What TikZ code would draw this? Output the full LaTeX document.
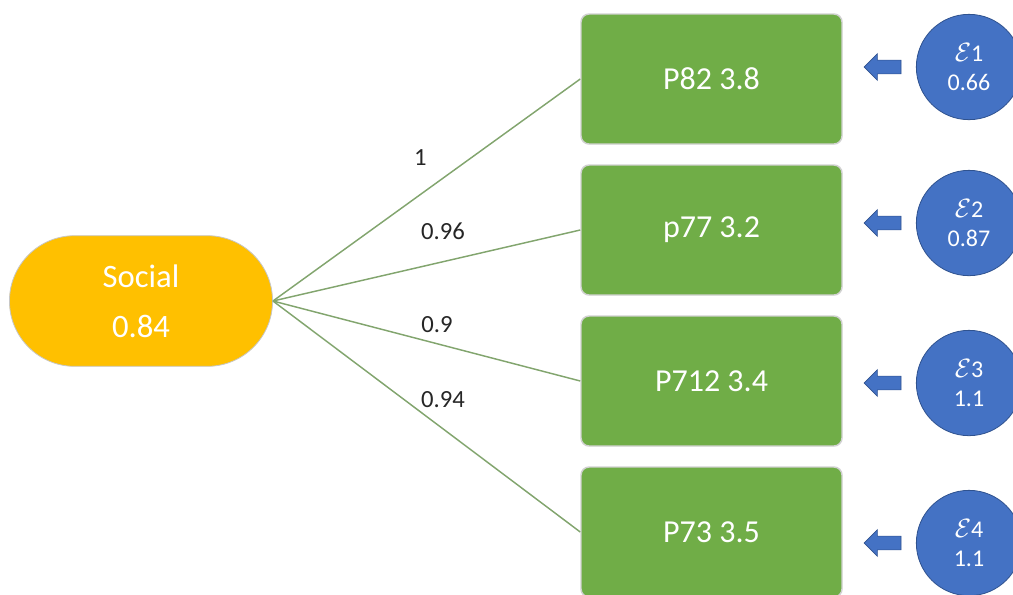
\documentclass[tikz,border=0pt]{standalone}
\usepackage{fontspec}
\setmainfont{Carlito}
\usetikzlibrary{arrows,%
                shapes,positioning}
\definecolor{gold}{HTML}{FFC000}
\definecolor{leaf}{HTML}{70AD47}
\definecolor{sky}{HTML}{4472C4}
\definecolor{skyline}{HTML}{2F528F}
\definecolor{vine}{HTML}{82A56E}

\begin{document}
\begin{tikzpicture}[x=0.75pt,y=-0.75pt,
  factor/.style={rounded rectangle, fill=gold, draw=black!22, line width=0.6pt,
    minimum width=204pt, minimum height=98pt, text=white, align=center,
    font=\fontsize{24.5}{37.5}\selectfont},
  item/.style={rectangle, rounded corners=6pt, fill=leaf, draw=black!18, line width=1.1pt,
    minimum width=195.75pt, minimum height=97.5pt, text=white,
    font=\fontsize{24}{28}\selectfont},
  err/.style={circle, fill=sky, draw=skyline, line width=0.6pt, minimum size=79pt,
    inner sep=0pt, text=white, align=center, font=\fontsize{18}{22}\selectfont},
  blockarrow/.style={single arrow, shape border rotate=180, fill=sky, draw=skyline,
    line width=0.5pt, inner sep=0pt, text height=4.9pt, text depth=4.9pt,
    minimum height=27.75pt, single arrow head extend=4.8pt, single arrow head indent=0pt},
  link/.style={draw=vine, line width=1.1pt},
  lbl/.style={font=\fontsize{18.5}{20}\selectfont, text=black!85}]
\useasboundingbox (0,0) rectangle (1013,594);
\clip (0,0) rectangle (1013,594);

\node[factor] (social) at (141,301) {Social\\0.84};

\node[item] (p82) at (711.5,79) {P82 3.8};
\node[item] (p77) at (711.5,230) {p77 3.2};
\node[item] (p712) at (711.5,381) {P712 3.4};
\node[item] (p73) at (711.5,532) {P73 3.5};

\node[err] (e1) at (969,67) {\scalebox{1.15}{$\mathcal{E}$}1\\0.66};
\node[err] (e2) at (969,223) {\scalebox{1.15}{$\mathcal{E}$}2\\0.87};
\node[err] (e3) at (969,383) {\scalebox{1.15}{$\mathcal{E}$}3\\1.1};
\node[err] (e4) at (969,543) {\scalebox{1.15}{$\mathcal{E}$}4\\1.1};

\node[blockarrow] (a1) at (886,67) {};
\node[blockarrow] (a2) at (886,223) {};
\node[blockarrow] (a3) at (886,383) {};
\node[blockarrow] (a4) at (886,543) {};

\draw[link] (social.east) -- node[lbl, pos=0.48, yshift=27.75pt] {1} (p82.west);
\draw[link] (social.east) -- node[lbl, pos=0.553, yshift=22.5pt] {0.96} (p77.west);
\draw[link] (social.east) -- node[lbl, pos=0.534, yshift=14.25pt] {0.9} (p712.west);
\draw[link] (social.east) -- node[lbl, pos=0.553, yshift=21.75pt] {0.94} (p73.west);
\end{tikzpicture}
\end{document}
